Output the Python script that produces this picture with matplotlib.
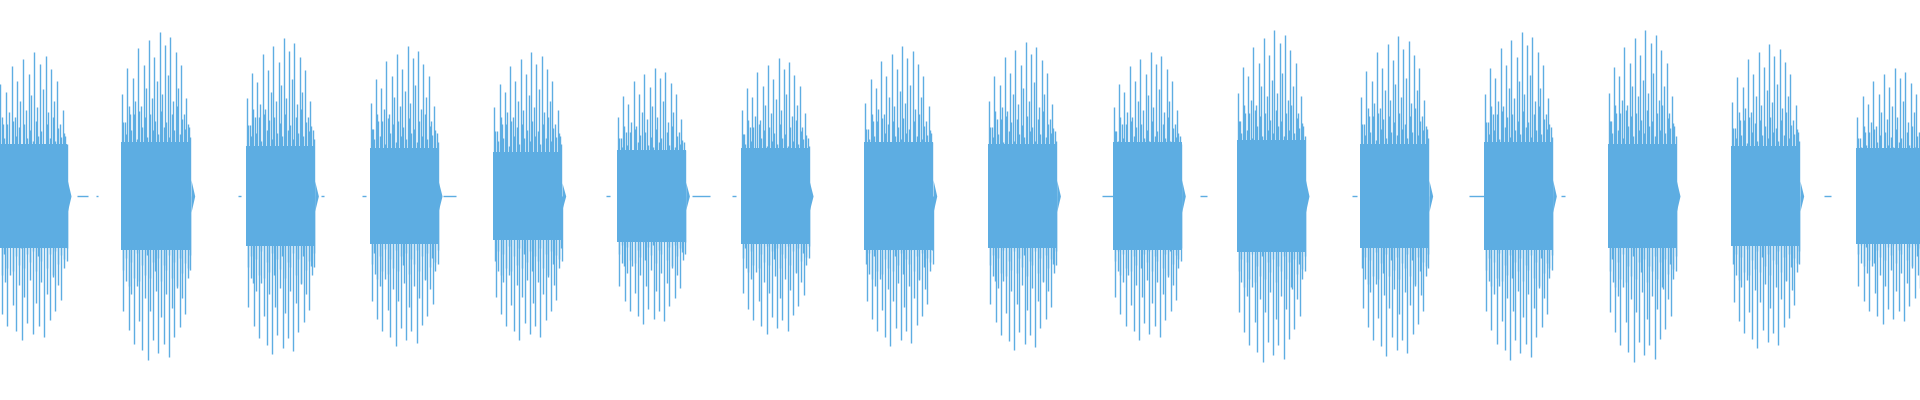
import matplotlib
matplotlib.use("Agg")
import matplotlib.pyplot as plt

# waveform bursts, x in reference pixels (0..1568), amplitude as fraction of half height
burst_starts = [-5, 99, 201, 302, 403, 504, 605, 706, 807, 909, 1010, 1111, 1212, 1313, 1414, 1516]
burst_ends = [55, 156, 257, 358, 459, 560, 661, 762, 863, 965, 1066, 1167, 1268, 1369, 1470, 1573]
burst_peaks = [0.72, 0.82, 0.79, 0.75, 0.72, 0.64, 0.69, 0.75, 0.77, 0.72, 0.83, 0.80, 0.82, 0.83, 0.76, 0.64]
core_levels = [0.26, 0.27, 0.25, 0.24, 0.22, 0.23, 0.24, 0.27, 0.26, 0.27, 0.28, 0.26, 0.27, 0.26, 0.25, 0.24]

# relative spike heights across a burst
upper_pattern = [0.62, 0.45, 0.78, 0.5, 0.72, 0.58, 0.9, 0.55, 0.8, 0.66, 0.95, 0.6, 0.85, 0.7,
                 1.0, 0.62, 0.92, 0.74, 0.97, 0.58, 0.88, 0.66, 0.8, 0.5, 0.6, 0.42]
lower_pattern = [0.7, 0.52, 0.82, 0.6, 0.9, 0.55, 0.76, 0.94, 0.62, 1.0, 0.7, 0.88, 0.58, 0.96,
                 0.74, 0.9, 0.6, 0.98, 0.68, 0.86, 0.56, 0.8, 0.62, 0.72, 0.5, 0.45]
mid_pattern = [0.45, 0.38, 0.55, 0.4, 0.5, 0.35, 0.52, 0.42, 0.48, 0.36, 0.5, 0.4, 0.46, 0.38,
               0.52, 0.42, 0.45, 0.36, 0.5, 0.4, 0.55, 0.38, 0.47, 0.41, 0.44, 0.36]

# small blips on the baseline between bursts
gap_blips = [(63, 72), (78, 80), (194, 197), (262, 265), (296, 299), (362, 372), (495, 498),
             (565, 580), (598, 601), (900, 910), (980, 986), (1104, 1108), (1200, 1212),
             (1275, 1278), (1345, 1365), (1490, 1495)]

color = "#5DADE2"
fig = plt.figure(figsize=(19.2, 4), dpi=100)
ax = fig.add_axes([0, 0, 1, 1])

for s, e, p, c in zip(burst_starts, burst_ends, burst_peaks, core_levels):
    n = len(upper_pattern)
    step = (e - s) / n
    ax.fill_between([s, e], [-c, -c], [c, c], color=color, lw=0)
    ax.fill_between([e, e + 2, e + 3], [-c * 0.3, -c * 0.1, 0], [c * 0.3, c * 0.1, 0],
                    color=color, lw=0)
    for i in range(n):
        x = s + step * (i + 0.3)
        ax.vlines(x, 0, p * upper_pattern[i], color=color, lw=1.0)
        ax.vlines(x + step * 0.5, -p * lower_pattern[i], 0, color=color, lw=1.0)
    m = len(mid_pattern)
    for i in range(m):
        x = s + (e - s) * (i + 0.75) / m
        h = p * mid_pattern[i]
        ax.vlines(x, -h, h, color=color, lw=1.0)

for a, b in gap_blips:
    ax.hlines(0, a, b, color=color, lw=1.0)

ax.set_xlim(0, 1568)
ax.set_ylim(-1.02, 0.98)
ax.axis("off")
fig.savefig("out.png", dpi=100)
